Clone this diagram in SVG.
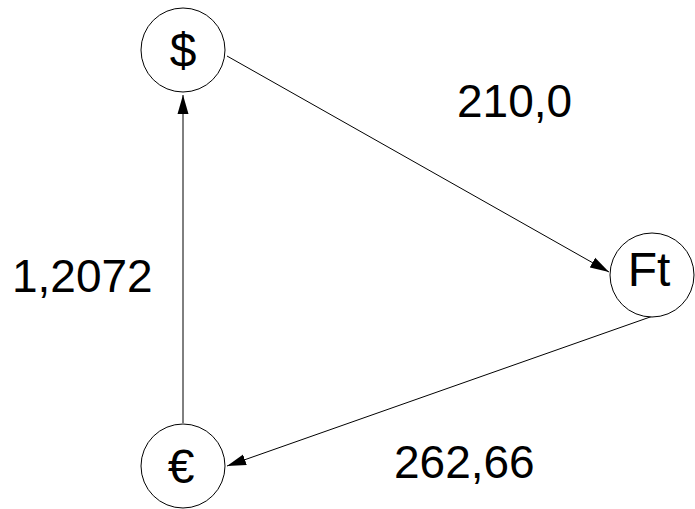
<svg xmlns="http://www.w3.org/2000/svg" width="695" height="509" viewBox="0 0 695 509">
<style>
.node circle{fill:#fff;stroke:#000;stroke-width:1}
text{font-family:"Liberation Sans",Arial,sans-serif;font-size:46px;fill:#000}
.node text{text-anchor:middle;font-size:48px}
.edge{stroke:#000;stroke-width:1;fill:none;marker-end:url(#arr)}
</style>
<defs>
<marker id="arr" markerWidth="20" markerHeight="12" refX="19" refY="6" orient="auto" markerUnits="userSpaceOnUse">
<path d="M0,0.5 L19,6 L0,11.5 Z" fill="#000"/>
</marker>
</defs>
<rect width="695" height="509" fill="#fff"/>
<g id="connectors">
<line class="edge" x1="227" y1="56" x2="609" y2="272"/>
<line class="edge" x1="653" y1="316" x2="227" y2="466"/>
<line class="edge" x1="183" y1="423" x2="183" y2="95"/>
</g>
<g id="node-usd" class="node"><circle cx="183" cy="50" r="42"/><text x="183" y="67">$</text></g>
<g id="node-huf" class="node"><circle cx="652" cy="275" r="42"/><text x="649" y="286">Ft</text></g>
<g id="node-eur" class="node"><circle cx="183" cy="466" r="42"/><text x="181" y="483">€</text></g>
<g id="labels">
<text x="457" y="117">210,0</text>
<text x="12" y="292">1,2072</text>
<text x="394" y="478">262,66</text>
</g>
</svg>
